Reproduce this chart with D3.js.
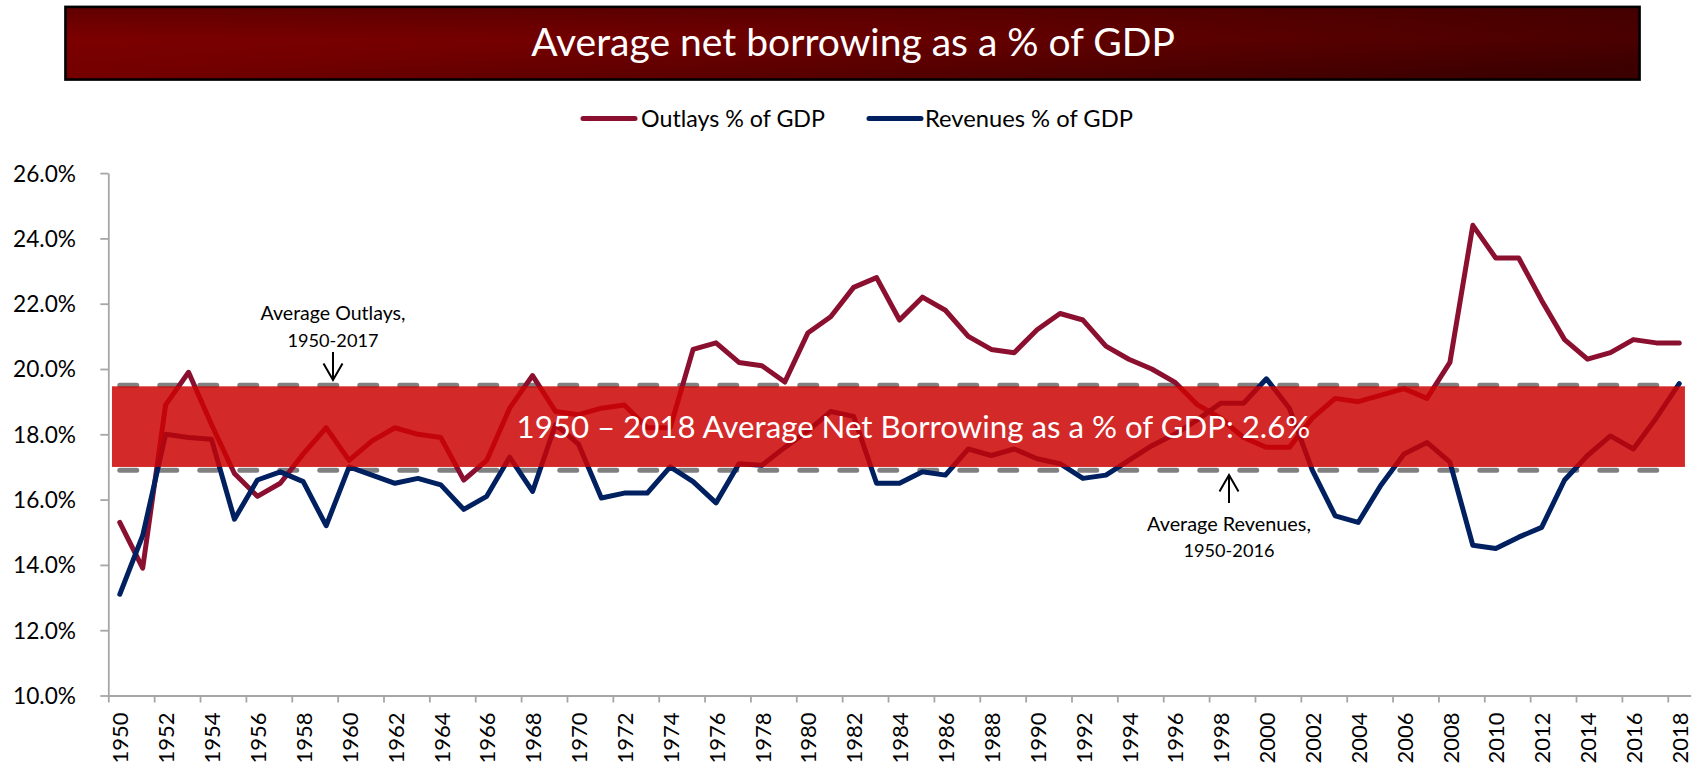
<!DOCTYPE html>
<html>
<head>
<meta charset="utf-8">
<script src="https://cdnjs.cloudflare.com/ajax/libs/d3/7.8.5/d3.min.js"></script>
<style>
  html, body { margin: 0; padding: 0; background: #fff; }
  svg { display: block; }
  text { font-family: Lato, "Open Sans", sans-serif; }
</style>
</head>
<body>
<svg id="chart" width="1703" height="767"></svg>
<script>
var years = d3.range(1950, 2019);

var outlays = [
	15.3, 13.9, 18.9, 19.9, 18.3, 16.8, 16.1, 16.5, 17.4, 18.2,
	17.2, 17.8, 18.2, 18.0, 17.9, 16.6, 17.2, 18.8, 19.8, 18.7,
	18.6, 18.8, 18.9, 18.2, 18.2, 20.6, 20.8, 20.2, 20.1, 19.6,
	21.1, 21.6, 22.5, 22.8, 21.5, 22.2, 21.8, 21.0, 20.6, 20.5,
	21.2, 21.7, 21.5, 20.7, 20.3, 20.0, 19.6, 18.9, 18.5, 17.9,
	17.6, 17.6, 18.5, 19.1, 19.0, 19.2, 19.4, 19.1, 20.2, 24.4,
	23.4, 23.4, 22.1, 20.9, 20.3, 20.5, 20.9, 20.8, 20.8
];

var revenues = [
	13.1, 14.9, 18.0, 17.9, 17.85, 15.4, 16.6, 16.85, 16.55, 15.2,
	17.0, 16.75, 16.5, 16.65, 16.45, 15.7, 16.1, 17.3, 16.25, 18.3,
	17.7, 16.05, 16.2, 16.2, 17.0, 16.55, 15.9, 17.1, 17.05, 17.6,
	18.1, 18.7, 18.55, 16.5, 16.5, 16.85, 16.75, 17.55, 17.35, 17.55,
	17.25, 17.1, 16.65, 16.75, 17.2, 17.65, 18.0, 18.45, 18.95, 18.95,
	19.7, 18.8, 16.9, 15.5, 15.3, 16.45, 17.4, 17.75, 17.15, 14.6,
	14.5, 14.85, 15.15, 16.6, 17.35, 17.95, 17.55, 18.5, 19.55
];

var yTicks = [10, 12, 14, 16, 18, 20, 22, 24, 26];
var xLabelYears = years.filter(function(d) { return d % 2 === 0; });

var avgOutlays = 19.5;
var avgRevenues = 16.9;
var bandTop = 19.47;
var bandBottom = 17.0;

var titleText = "Average net borrowing as a % of GDP";
var bandText = "1950 \u2013 2018 Average Net Borrowing as a % of GDP: 2.6%";
var seriesNames = ["Outlays % of GDP", "Revenues % of GDP"];
var seriesColors = ["#8b1030", "#002060"];

var svg = d3.select("#chart");

// scale font so the text gets the wanted width
function fitWidth(sel, w) {
	var len = sel.node().getComputedTextLength();
	var fs = parseFloat(sel.attr("font-size"));
	sel.attr("font-size", (fs * w / len).toFixed(2));
	return fs * w / len;
}

var x = d3.scaleLinear().domain([1949.5, 2018.5]).range([108.3, 1690.7]);
var y = d3.scaleLinear().domain([10, 26]).range([695.5, 173.1]);

// title box
var defs = svg.append("defs");
var grad = defs.append("linearGradient").attr("id", "titleGrad")
	.attr("x1", "0").attr("y1", "0.2").attr("x2", "1").attr("y2", "0.8");
grad.append("stop").attr("offset", "0").attr("stop-color", "#800000");
grad.append("stop").attr("offset", "0.35").attr("stop-color", "#730000");
grad.append("stop").attr("offset", "1").attr("stop-color", "#3d0000");
var shade = defs.append("linearGradient").attr("id", "titleShade")
	.attr("x1", "0").attr("y1", "0").attr("x2", "0").attr("y2", "1");
shade.append("stop").attr("offset", "0").attr("stop-color", "#000").attr("stop-opacity", 0.25);
shade.append("stop").attr("offset", "0.45").attr("stop-color", "#000").attr("stop-opacity", 0);

svg.append("rect").attr("x", 64).attr("y", 5.5).attr("width", 1577).attr("height", 75.5)
	.attr("fill", "#999");
svg.append("rect").attr("x", 65.5).attr("y", 7).attr("width", 1574).attr("height", 72.5)
	.attr("fill", "url(#titleGrad)").attr("stroke", "#000").attr("stroke-width", 2.5);
svg.append("rect").attr("x", 66.75).attr("y", 8.25).attr("width", 1571.5).attr("height", 70)
	.attr("fill", "url(#titleShade)");

var title = svg.append("text").attr("x", 853).attr("y", 56)
	.attr("text-anchor", "middle").attr("fill", "#fff").attr("font-size", 36)
	.text(titleText);
fitWidth(title, 644);

// legend
var legendX = [[583, 641, 184], [869, 925, 208]];
seriesNames.forEach(function(name, i) {
	svg.append("line")
		.attr("x1", legendX[i][0]).attr("x2", legendX[i][0] + 52)
		.attr("y1", 118.5).attr("y2", 118.5)
		.attr("stroke", seriesColors[i]).attr("stroke-width", 5).attr("stroke-linecap", "round");
	var t = svg.append("text").attr("x", legendX[i][1]).attr("y", 118.5).attr("dy", "0.35em")
		.attr("fill", "#000").attr("font-size", 21).text(name);
	fitWidth(t, legendX[i][2]);
});

// axes
var yAxis = svg.append("g").attr("transform", "translate(108.3,0)")
	.call(d3.axisLeft(y).tickValues(yTicks).tickSize(8).tickSizeOuter(0)
		.tickFormat(function(d) { return d.toFixed(1) + "%"; }));
yAxis.select(".domain").attr("stroke", "#a6a6a6").attr("stroke-width", 1.8);
yAxis.selectAll(".tick line").attr("stroke", "#a6a6a6").attr("stroke-width", 1.8);
yAxis.selectAll(".tick text").attr("font-family", "Lato, sans-serif").attr("font-size", 21)
	.attr("fill", "#000").attr("x", -32.3).attr("dy", "0.35em");
var yFont = fitWidth(yAxis.select(".tick:last-of-type text"), 63);
yAxis.selectAll(".tick text").attr("font-size", yFont.toFixed(2));

var boundaries = d3.range(1949.5, 2019, 2);
var xAxis = svg.append("g").attr("transform", "translate(0,695.5)")
	.call(d3.axisBottom(x).tickValues(boundaries).tickSize(7).tickSizeOuter(0).tickFormat(""));
xAxis.select(".domain").attr("stroke", "#a6a6a6").attr("stroke-width", 1.8);
xAxis.selectAll(".tick line").attr("stroke", "#a6a6a6").attr("stroke-width", 1.8);

svg.append("g").selectAll("text").data(xLabelYears).join("text")
	.attr("transform", function(d) { return "translate(" + (x(d) + 0.8) + ",712.5) rotate(-90)"; })
	.attr("text-anchor", "end").attr("dy", "0.36em")
	.attr("font-family", "'Liberation Sans', Arial, sans-serif").attr("font-size", 22)
	.attr("fill", "#000")
	.text(function(d) { return d; });

// average lines
[avgOutlays, avgRevenues].forEach(function(v) {
	svg.append("line")
		.attr("x1", x(1950)).attr("x2", x(2018))
		.attr("y1", y(v)).attr("y2", y(v))
		.attr("stroke", "#808080").attr("stroke-width", 5)
		.attr("stroke-dasharray", "17,23").attr("stroke-linecap", "round");
});

// series
var line = d3.line().x(function(d, i) { return x(years[i]); }).y(function(d) { return y(d); });
[outlays, revenues].forEach(function(s, i) {
	svg.append("path").datum(s)
		.attr("d", line).attr("fill", "none")
		.attr("stroke", seriesColors[i]).attr("stroke-width", 5)
		.attr("stroke-linejoin", "round").attr("stroke-linecap", "round");
});

// band
svg.append("rect")
	.attr("x", x(1950) - 7.8).attr("width", x(2018) - x(1950) + 13.5)
	.attr("y", y(bandTop)).attr("height", y(bandBottom) - y(bandTop))
	.attr("fill", "#cc0404").attr("fill-opacity", 0.85);

var bt = svg.append("text").attr("x", 516.6).attr("y", 438.3)
	.attr("fill", "#fff").attr("font-size", 28).text(bandText);
fitWidth(bt, 794);

// annotations
function annotate(cx, lines, widths, baselines, arrowTop, arrowBottom, pointDown) {
	lines.forEach(function(l, i) {
		var t = svg.append("text").attr("x", cx).attr("y", baselines[i])
			.attr("text-anchor", "middle").attr("fill", "#000").attr("font-size", 18).text(l);
		fitWidth(t, widths[i]);
	});
	svg.append("line").attr("x1", cx).attr("x2", cx).attr("y1", arrowTop).attr("y2", arrowBottom)
		.attr("stroke", "#000").attr("stroke-width", 2);
	var tip = pointDown ? arrowBottom : arrowTop;
	var back = pointDown ? tip - 16.5 : tip + 16.5;
	svg.append("path")
		.attr("d", "M" + (cx - 9.5) + "," + back + "L" + cx + "," + tip + "L" + (cx + 9.5) + "," + back)
		.attr("fill", "none").attr("stroke", "#000").attr("stroke-width", 2);
}
annotate(333, ["Average Outlays,", "1950-2017"], [145, 91], [319.5, 346.5], 352, 380, true);
annotate(1229, ["Average Revenues,", "1950-2016"], [164, 91], [530.7, 557.3], 475, 503, false);
</script>
</body>
</html>
